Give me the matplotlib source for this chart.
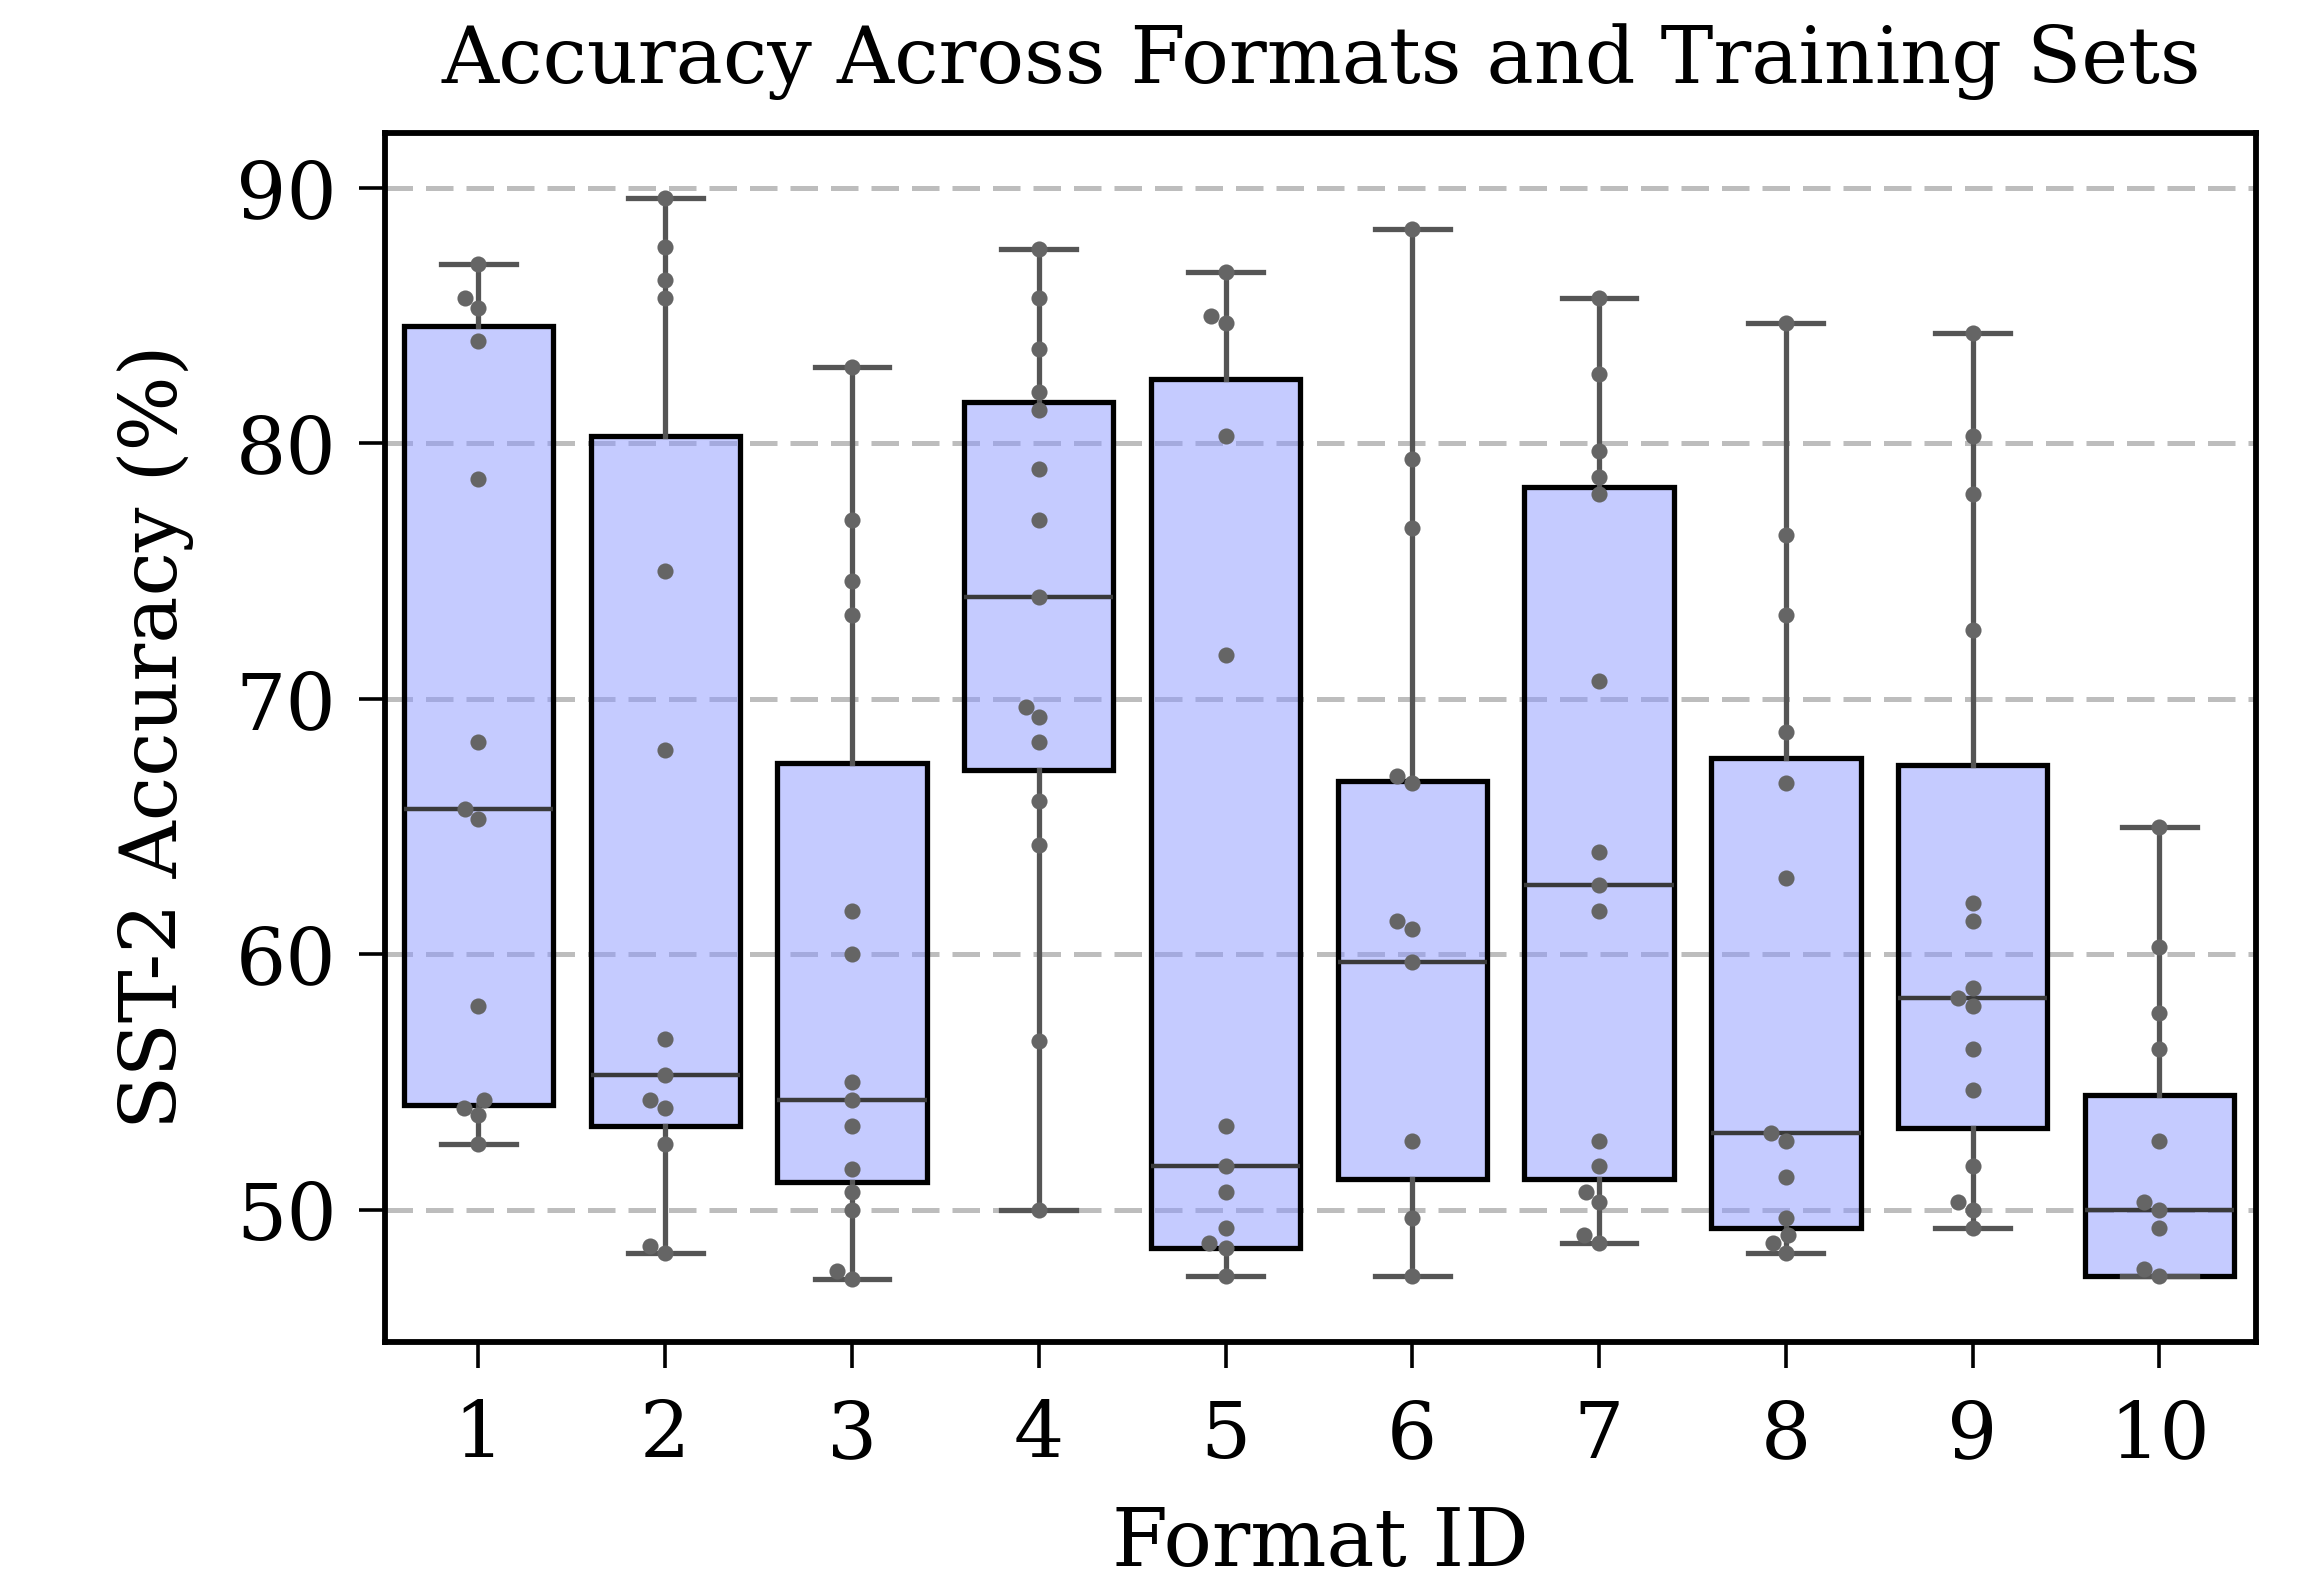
import numpy as np
import pandas as pd
import matplotlib
matplotlib.use("Agg")
import matplotlib.pyplot as plt
import seaborn as sns

# box statistics, one entry per format
format_ids = ['1', '2', '3', '4', '5', '6', '7', '8', '9', '10']
q1 = [54.1, 53.3, 51.1, 67.2, 48.5, 51.2, 51.2, 49.3, 53.2, 47.4]
medians = [65.7, 55.3, 54.3, 74.0, 51.7, 59.7, 62.7, 53.0, 58.3, 50.0]
q3 = [84.6, 80.3, 67.5, 81.6, 82.5, 66.8, 78.3, 67.7, 67.4, 54.5]
whis_lo = [52.6, 48.3, 47.3, 50.0, 47.4, 47.4, 48.7, 48.3, 49.3, 47.4]
whis_hi = [87.0, 89.6, 83.0, 87.6, 86.7, 88.4, 85.7, 84.7, 84.3, 65.0]

# individual training-set accuracies (visible dots)
pts_f1 = [87.0, 85.7, 85.3, 84.0, 78.6, 68.3, 65.7, 65.3, 58.0, 54.3, 54.0, 53.7, 52.6]
pts_f2 = [89.6, 87.7, 86.4, 85.7, 75.0, 68.0, 56.7, 55.3, 54.3, 54.0, 52.6, 48.6, 48.3]
pts_f3 = [83.0, 77.0, 74.6, 73.3, 61.7, 60.0, 55.0, 54.3, 53.3, 51.6, 50.7, 50.0, 47.6, 47.3]
pts_f4 = [87.6, 85.7, 83.7, 82.0, 81.3, 79.0, 77.0, 74.0, 69.7, 69.3, 68.3, 66.0, 64.3, 56.6, 50.0]
pts_f5 = [86.7, 85.0, 84.7, 80.3, 71.7, 53.3, 51.7, 50.7, 49.3, 48.7, 48.5, 47.4]
pts_f6 = [88.4, 79.4, 76.7, 67.0, 66.7, 61.3, 61.0, 59.7, 52.7, 49.7, 47.4]
pts_f7 = [85.7, 82.7, 79.7, 78.7, 78.0, 70.7, 64.0, 62.7, 61.7, 52.7, 51.7, 50.7, 50.3, 49.0, 48.7]
pts_f8 = [84.7, 76.4, 73.3, 68.7, 66.7, 63.0, 53.0, 52.7, 51.3, 49.7, 49.0, 48.7, 48.3]
pts_f9 = [84.3, 80.3, 78.0, 72.7, 62.0, 61.3, 58.7, 58.3, 58.0, 56.3, 54.7, 51.7, 50.3, 50.0, 49.3]
pts_f10 = [65.0, 60.3, 57.7, 56.3, 52.7, 50.3, 50.0, 49.3, 47.7, 47.4]

points = [pts_f1, pts_f2, pts_f3, pts_f4, pts_f5, pts_f6, pts_f7, pts_f8, pts_f9, pts_f10]

plt.rcParams['font.family'] = 'DejaVu Serif'

fig = plt.figure(figsize=(11.6, 7.91), dpi=200)
ax = fig.add_axes([0.166, 0.152, 0.8066, 0.764])

# grid first so boxes sit over it (box face is semi-transparent)
ax.yaxis.grid(True, linestyle=(0, (5.5, 2.6)), color='#bdbdbd', linewidth=1.8, zorder=0)
ax.set_axisbelow(True)

stats = []
for i in range(len(format_ids)):
    stats.append({'med': medians[i], 'q1': q1[i], 'q3': q3[i],
                  'whislo': whis_lo[i], 'whishi': whis_hi[i], 'fliers': []})

bp = ax.bxp(stats, positions=range(len(format_ids)), widths=0.8, capwidths=0.4,
            patch_artist=True, showfliers=False,
            boxprops=dict(facecolor=(0.55, 0.6, 1.0, 0.5), edgecolor='black', linewidth=1.9),
            whiskerprops=dict(color='#555555', linewidth=1.9),
            capprops=dict(color='#555555', linewidth=1.9),
            medianprops=dict(color='#3a3a3a', linewidth=1.6))
for art in bp['boxes']:
    art.set_zorder(2)

df = pd.DataFrame({
    'fmt': [f for f, p in zip(format_ids, points) for _ in p],
    'acc': [v for p in points for v in p],
})
sns.swarmplot(data=df, x='fmt', y='acc', order=format_ids, color='#656565',
              size=5.8, ax=ax, zorder=4)

ax.set_xlim(-0.5, 9.52)
ax.set_ylim(44.85, 92.15)
ax.set_yticks([50, 60, 70, 80, 90])
ax.set_xticks(range(len(format_ids)))
ax.set_xticklabels(format_ids)
ax.tick_params(axis='both', labelsize=28.5, length=9.5, width=1.3, pad=8)
ax.tick_params(axis='x', pad=11)

for s in ax.spines.values():
    s.set_linewidth(2.1)

ax.set_title('Accuracy Across Formats and Training Sets', fontsize=28.5, pad=18)
ax.set_xlabel('Format ID', fontsize=29, labelpad=11)
ax.set_ylabel('SST-2 Accuracy (%)', fontsize=28.5, labelpad=15)

fig.savefig('out.png', dpi=200, facecolor='white')
